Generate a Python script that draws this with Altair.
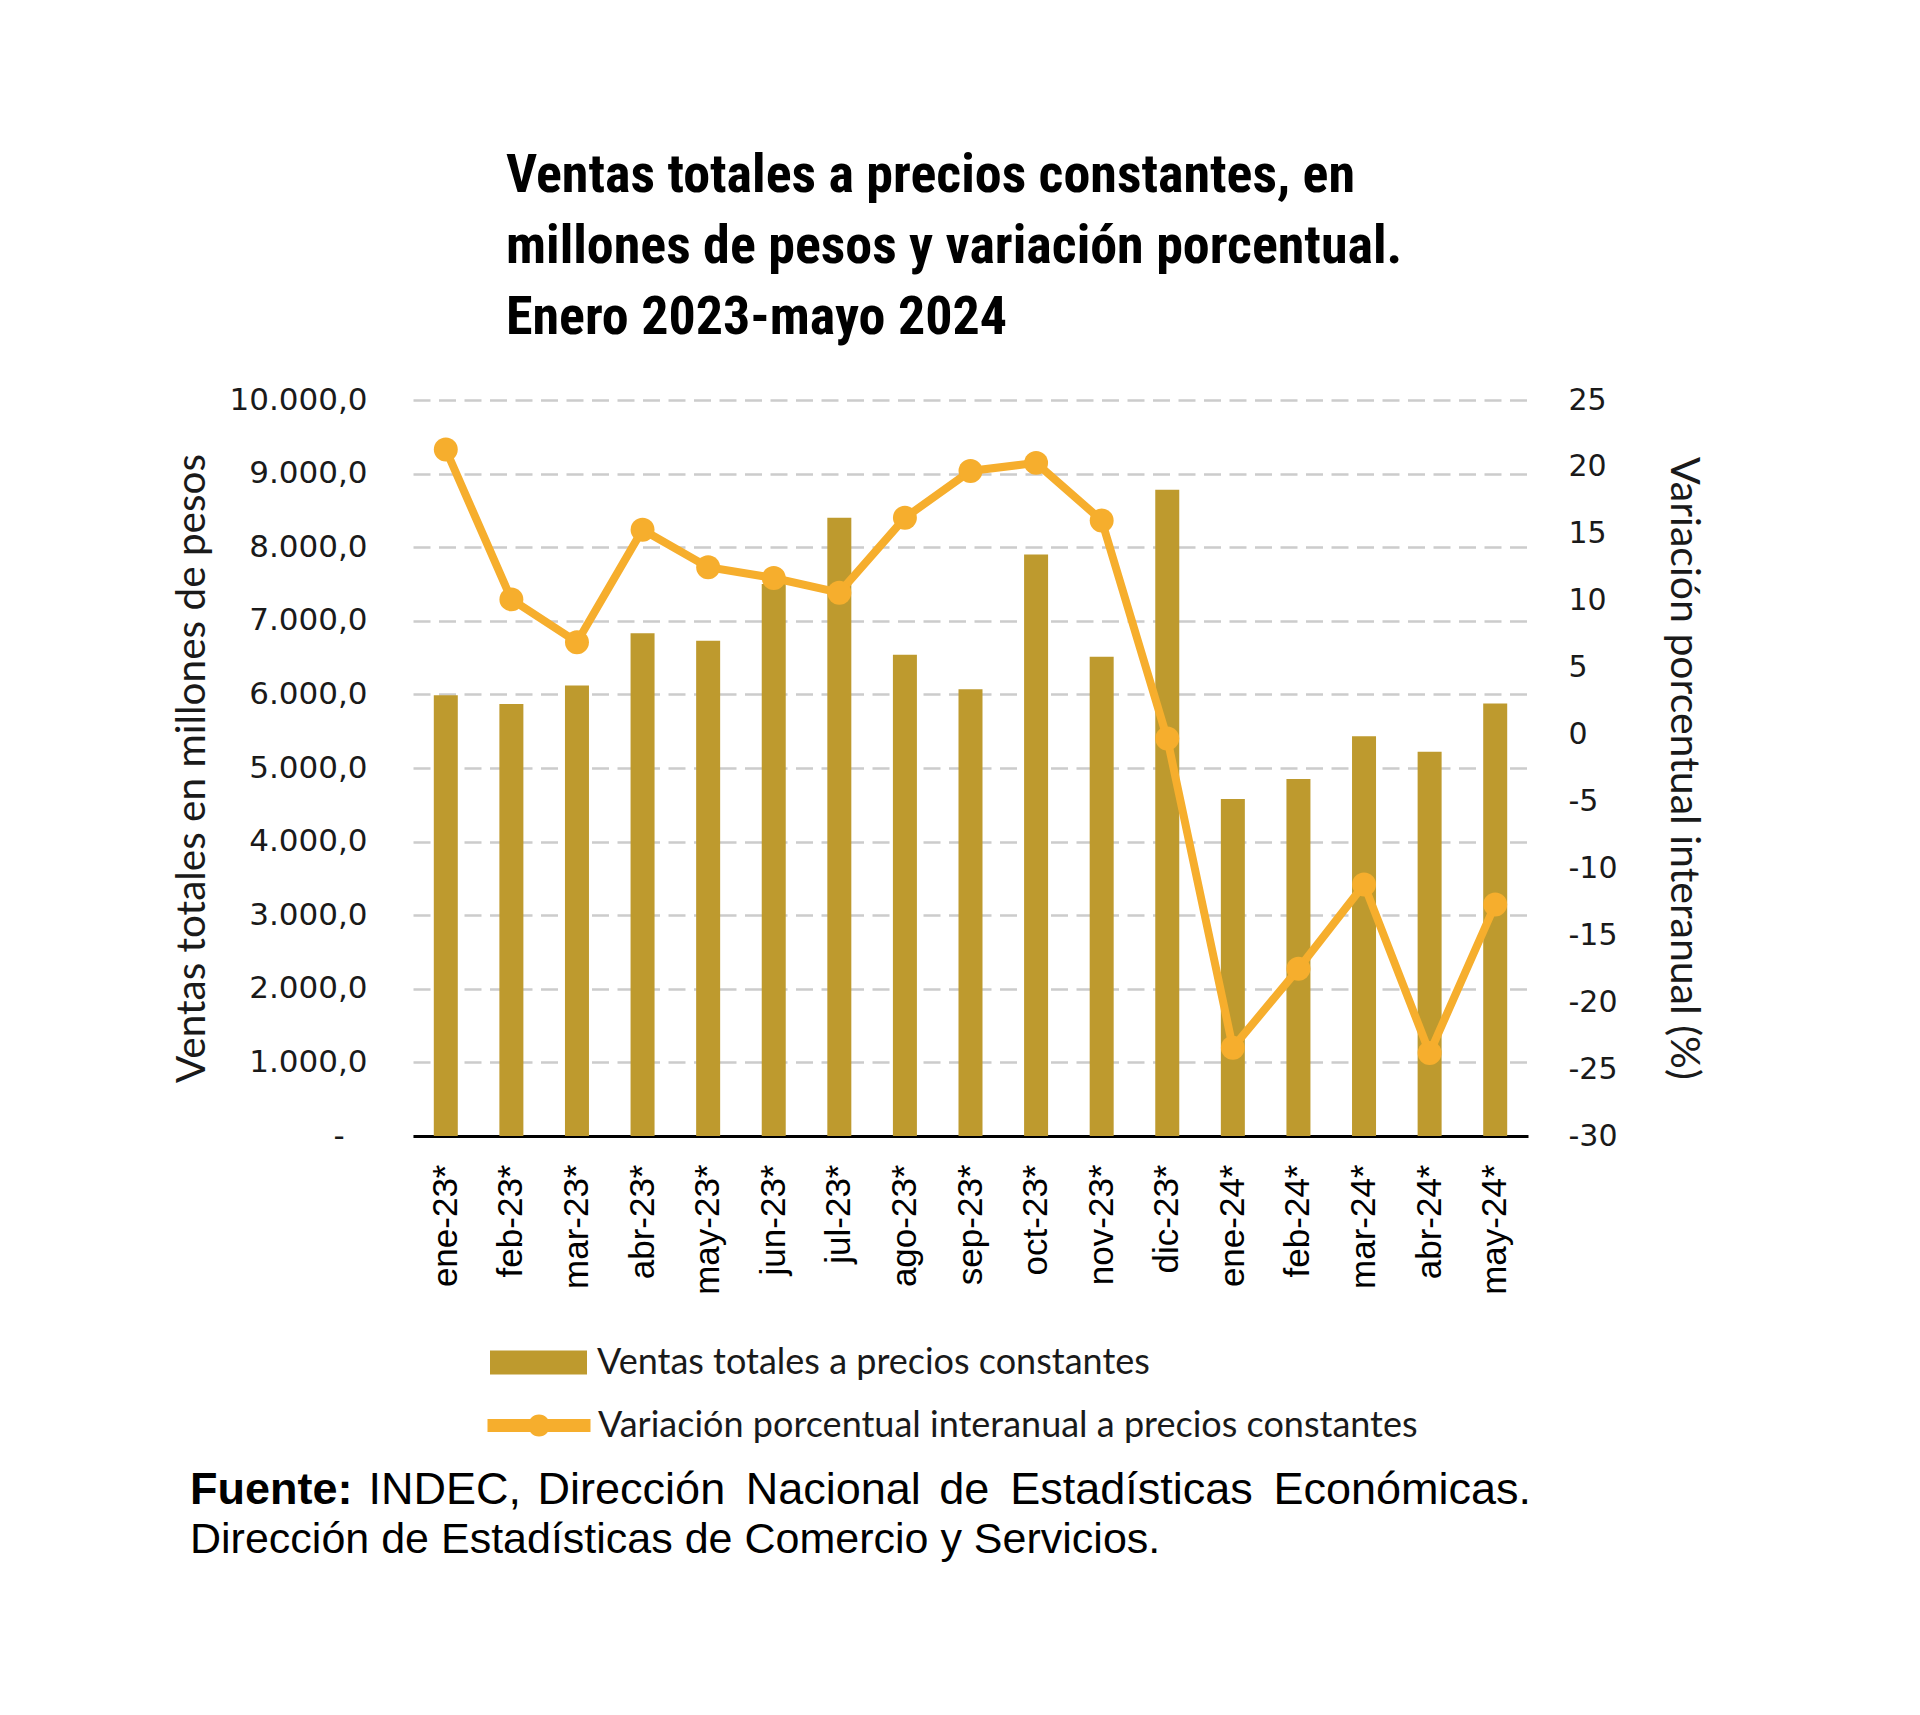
import altair as alt
import pandas as pd

# ---- data ----
months = ["ene-23*", "feb-23*", "mar-23*", "abr-23*", "may-23*", "jun-23*",
          "jul-23*", "ago-23*", "sep-23*", "oct-23*", "nov-23*", "dic-23*",
          "ene-24*", "feb-24*", "mar-24*", "abr-24*", "may-24*"]
ventas = [5990, 5870, 6120, 6830, 6730, 7500, 8400, 6540, 6070, 7900,
          6510, 8780, 4580, 4850, 5430, 5220, 5875]
variacion = [21.3, 10.1, 6.9, 15.3, 12.5, 11.7, 10.6, 16.2, 19.7, 20.3,
             16.0, -0.3, -23.4, -17.5, -11.2, -23.8, -12.7]

left_ticks = list(range(0, 10001, 1000))
right_ticks = list(range(-30, 26, 5))

title_lines = ["Ventas totales a precios constantes, en",
               "millones de pesos y variación porcentual.",
               "Enero 2023-mayo 2024"]
legend_bar = "Ventas totales a precios constantes"
legend_line = "Variación porcentual interanual a precios constantes"
y_left_title = "Ventas totales en millones de pesos"
y_right_title = "Variación porcentual interanual (%)"
source_line1 = ["INDEC,", "Dirección", "Nacional", "de", "Estadísticas", "Económicas."]
source_line2 = "Dirección de Estadísticas de Comercio y Servicios."

df = pd.DataFrame({"mes": months, "ventas": ventas, "var": variacion})
df["s_bar"] = legend_bar
df["s_line"] = legend_line

BAR = "#BE9A2E"
LINE = "#F6AE2D"
W, H = 1115, 736

x_enc = alt.X("mes:N", sort=months, title=None,
              scale=alt.Scale(paddingInner=0, paddingOuter=0),
              axis=alt.Axis(labelAngle=-90, labelFont="Liberation Sans", labelFontSize=35,
                            labelColor="#000000", labelPadding=28, ticks=False, tickSize=0,
                            domainColor="#000000", domainWidth=3, grid=False))

left_label = ("datum.value == 0 ? '-\u2800' : "
              "replace(replace(replace(format(datum.value, ',.1f'), ',', 'X'), '.', ','), 'X', '.')")

bars = alt.Chart(df).mark_bar(size=24).encode(
    x=x_enc,
    y=alt.Y("ventas:Q", title=y_left_title,
            scale=alt.Scale(domain=[0, 10000], nice=False),
            axis=alt.Axis(values=left_ticks, labelExpr=left_label, grid=True,
                          gridDash=[17, 8.5], gridColor="#cccccc", gridWidth=2.5,
                          domain=False, ticks=False, tickSize=0, labelPadding=46,
                          labelFont="DejaVu Sans", labelFontSize=31, labelColor="#1a1a1a",
                          titleFont="Lato", titleFontSize=40.5, titleFontWeight="normal",
                          titleColor="#1a1a1a", titleX=-200)),
    color=alt.Color("s_bar:N", scale=alt.Scale(range=[BAR]),
                    legend=alt.Legend(title=None, orient="none", legendX=77, legendY=914,
                                      symbolType="M-1,-0.247L1,-0.247L1,0.247L-1,0.247Z",
                                      symbolSize=9409, symbolStrokeWidth=0, padding=0,
                                      labelOffset=10, labelFont="Lato", labelFontSize=36,
                                      labelColor="#1a1a1a", labelLimit=1200)),
)

y_right = alt.Y("var:Q", title=y_right_title,
                scale=alt.Scale(domain=[-30, 25], nice=False),
                axis=alt.Axis(orient="right", values=right_ticks, labelExpr="'' + datum.value",
                              grid=False, domain=False, ticks=False, tickSize=0,
                              labelPadding=40, labelFont="DejaVu Sans", labelFontSize=30,
                              labelColor="#1a1a1a", titleFont="Lato", titleFontSize=41,
                              titleFontWeight="normal", titleColor="#1a1a1a", titleX=133))

line = alt.Chart(df).mark_line(strokeWidth=8).encode(
    x=x_enc,
    y=y_right,
    stroke=alt.Stroke("s_line:N", scale=alt.Scale(range=[LINE]),
                      legend=alt.Legend(title=None, orient="none", legendX=68, legendY=967.5,
                                        symbolType="M-1,0L1,0M0,-0.087A0.087,0.087,0,1,1,0,0.087A0.087,0.087,0,1,1,0,-0.087",
                                        symbolSize=10609, symbolStrokeWidth=13, padding=0,
                                        labelOffset=1, labelFont="Lato", labelFontSize=36,
                                        labelColor="#1a1a1a", labelLimit=1200)),
)
points = alt.Chart(df).mark_circle(size=573, color=LINE, opacity=1).encode(x=x_enc, y=y_right)

one = pd.DataFrame({"a": [0]})

def txt(text, x, y, size, font, weight="normal", color="#000000"):
    return alt.Chart(one).mark_text(text=text, align="left", baseline="alphabetic",
                                    font=font, fontSize=size, fontWeight=weight,
                                    color=color).encode(x=alt.value(x), y=alt.value(y))

texts = []
title_y = [-208, -137, -66]
for t, yy in zip(title_lines, title_y):
    texts.append(txt(t, 93, yy, 54, "Roboto Condensed, DejaVu Sans Condensed", "bold"))

texts.append(txt("Fuente:", -223, 1104, 45, "Liberation Sans", "bold"))
word_x = [-44.4, 124.6, 332.7, 526.2, 597.2, 860.5]
for w, xx in zip(source_line1, word_x):
    texts.append(txt(w, xx, 1104, 45, "Liberation Sans"))
texts.append(txt(source_line2, -223, 1153, 43, "Liberation Sans"))

chart = alt.layer(bars, alt.layer(line, points), *texts).resolve_scale(
    y="independent"
).properties(
    width=W, height=H,
    autosize=alt.AutoSizeParams(type="none"),
    padding={"left": 405, "top": 392, "right": 384, "bottom": 571},
    background="white",
).configure_view(stroke=None)

chart.save("out.html", embed_options={"renderer": "svg", "actions": False})
